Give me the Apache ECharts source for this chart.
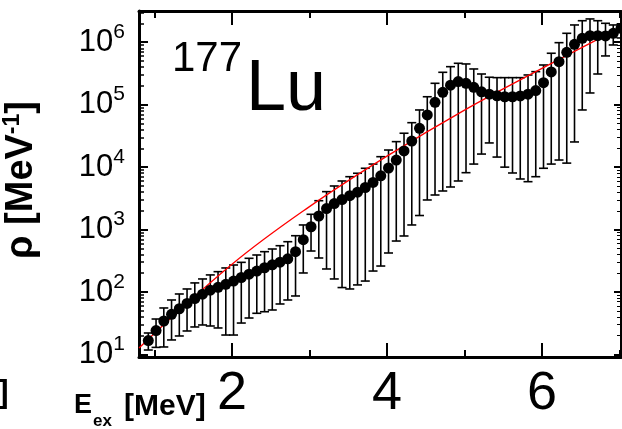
<!DOCTYPE html>
<html>
<head>
<meta charset="utf-8">
<title>177Lu level density</title>
<script src="https://cdn.jsdelivr.net/npm/echarts@6/dist/echarts.min.js"></script>
<style>
  html, body { margin: 0; padding: 0; background: #fff; }
  #chart { width: 622px; height: 429px; }
</style>
</head>
<body>
<div id="chart"></div>
<script>
// excitation energy of each bin [MeV]
const energies = [
  0.92, 1.02, 1.12, 1.22, 1.32, 1.42, 1.52, 1.62, 1.72, 1.82,
  1.92, 2.02, 2.12, 2.22, 2.32, 2.42, 2.52, 2.62, 2.72, 2.82,
  2.92, 3.02, 3.12, 3.22, 3.32, 3.42, 3.52, 3.62, 3.72, 3.82,
  3.92, 4.02, 4.12, 4.22, 4.32, 4.42, 4.52, 4.62, 4.72, 4.82,
  4.92, 5.02, 5.12, 5.22, 5.32, 5.42, 5.52, 5.62, 5.72, 5.82,
  5.92, 6.02, 6.12, 6.22, 6.32, 6.42, 6.52, 6.62, 6.72, 6.82,
  6.92, 7.02
]
// level density rho [1/MeV]
const rho = [
  16.7, 24.2, 34.4, 44, 54, 65.6, 78.8, 92.4, 107, 119,
  133, 150, 171, 193, 217, 245, 273, 301, 341, 443,
  689, 1110, 1650, 2170, 2610, 3020, 3490, 3970, 4720, 5680,
  7270, 9690, 13000, 18200, 26100, 41900, 68400, 109000, 158000, 205000,
  234000, 220000, 190000, 161000, 147000, 139000, 134000, 134000, 138000, 147000,
  168000, 225000, 334000, 489000, 690000, 927000, 1156000, 1274000, 1274000, 1259000,
  1390000, 1672000
]
// lower end of the error bars
const rhoLow = [
  11.8, 13, 13.2, 17.1, 19.8, 23.8, 27.6, 29.7, 28.6, 26.6,
  20.5, 20.5, 31.9, 38.4, 45.7, 48.4, 51.6, 64.4, 74.6, 86.5,
  202, 454, 351, 234, 162, 118, 112, 130, 150, 217,
  261, 422, 656, 790, 1186, 1680, 2980, 3580, 4150, 4810,
  6000, 8150, 11200, 16200, 24400, 14500, 10000, 8060, 6460, 5850,
  7030, 9590, 11200, 13000, 11600, 25300, 82300, 154000, 310000, 603000,
  904000, 1170000
]
// upper end of the error bars
const rhoHigh = [
  22.1, 37, 55.6, 74.6, 93.1, 112, 140, 162, 188, 212,
  243, 271, 299, 347, 392, 443, 489, 552, 640, 798,
  1186, 1758, 2900, 4050, 4990, 6000, 7030, 7980, 9590, 11200,
  14700, 18800, 25600, 34900, 51500, 82300, 134000, 220000, 330000, 406000,
  460000, 449000, 373000, 310000, 275000, 271000, 271000, 271000, 271000, 299000,
  338000, 432000, 666000, 984000, 1390000, 1890000, 2210000, 2360000, 2210000, 2010000,
  1890000, 1950000
]
// red reference curve
const fitEnergies = [0.8, 2.0, 3.0, 4.0, 5.0, 6.0, 7.02]
const fitRho = [12.7, 278, 2330, 15000, 82000, 381000, 1730000]

const xMajorTicks = [2, 4, 6]
const xMinorTicks = [1, 3, 5, 7]
const yDecades = [1, 2, 3, 4, 5, 6]

const FONT = '"Liberation Sans", Arial, Helvetica, sans-serif'
const X_MIN = 0.8
const X_MAX = 7.02
const Y_MIN = 0.96
const Y_MAX = 6.5

// y axis is drawn in log10 space, minor ticks at 2..9 of each decade
const lg = (v) => Math.log10(v)
const yMinorTicks = []
for (let d = 0; d <= 6; d++) {
  for (let k = 2; k <= 9; k++) {
    const v = d + lg(k)
    if (v > Y_MIN && v < Y_MAX) yMinorTicks.push(v)
  }
}

function axisBase(min, max, position) {
  return {
    type: 'value',
    min,
    max,
    position,
    splitLine: { show: false },
    axisLine: { show: false, onZero: false },
    axisTick: { show: false },
    axisLabel: { show: false }
  }
}

function withTicks(axis, values, length, width, lineWidth) {
  axis.axisTick = {
    show: true,
    inside: true,
    length,
    customValues: values,
    lineStyle: { color: '#000', width }
  }
  if (lineWidth) {
    axis.axisLine = { show: true, onZero: false, lineStyle: { color: '#000', width: lineWidth } }
  }
  return axis
}

const xBottom = withTicks(axisBase(X_MIN, X_MAX, 'bottom'), xMajorTicks, 14, 2, 3)
xBottom.axisLabel = {
  show: true,
  customValues: xMajorTicks,
  margin: 10,
  fontSize: 54,
  fontFamily: FONT,
  color: '#000'
}

const yLeft = withTicks(axisBase(Y_MIN, Y_MAX, 'left'), yDecades, 9, 2, 3)
yLeft.axisLabel = {
  show: true,
  customValues: yDecades,
  margin: 14,
  formatter: (v) => `{b|10}{s|${Math.round(v)}}`,
  rich: {
    b: { fontSize: 31, fontFamily: FONT, color: '#000' },
    s: { fontSize: 21, fontFamily: FONT, color: '#000', padding: [0, 0, 20, 0] }
  }
}

const chart = echarts.init(document.getElementById('chart'), null, { renderer: 'canvas' })

chart.setOption({
  animation: false,
  backgroundColor: '#fff',
  grid: { left: 139, right: 1, top: 11, bottom: 72, outerBoundsMode: 'none' },
  xAxis: [
    xBottom,
    withTicks(axisBase(X_MIN, X_MAX, 'bottom'), xMinorTicks, 7, 2),
    withTicks(axisBase(X_MIN, X_MAX, 'top'), xMajorTicks, 14, 2, 3),
    withTicks(axisBase(X_MIN, X_MAX, 'top'), xMinorTicks, 7, 2)
  ],
  yAxis: [
    yLeft,
    withTicks(axisBase(Y_MIN, Y_MAX, 'left'), yMinorTicks, 5, 1.5),
    withTicks(axisBase(Y_MIN, Y_MAX, 'right'), yDecades, 7, 2, 2),
    withTicks(axisBase(Y_MIN, Y_MAX, 'right'), yMinorTicks, 4, 1)
  ],
  graphic: [
    {
      type: 'text', x: 172, y: 59,
      style: { text: '177', font: `42px ${FONT}`, fill: '#000', align: 'left', verticalAlign: 'middle' }
    },
    {
      type: 'text', x: 246, y: 90,
      style: { text: 'Lu', font: `72px ${FONT}`, fill: '#000', align: 'left', verticalAlign: 'middle' }
    },
    {
      type: 'text', x: 22, y: 180, rotation: Math.PI / 2,
      style: {
        text: '{r|ρ [MeV}{s|-1}{r|]}',
        align: 'center',
        verticalAlign: 'middle',
        rich: {
          r: { fontSize: 38, fontWeight: 'bold', fontFamily: FONT, fill: '#000' },
          s: { fontSize: 23, fontWeight: 'bold', fontFamily: FONT, fill: '#000', padding: [0, 0, 18, 0] }
        }
      }
    },
    {
      type: 'text', x: 74, y: 406,
      style: { text: 'E', font: `bold 27px ${FONT}`, fill: '#000', align: 'left', verticalAlign: 'middle' }
    },
    {
      type: 'text', x: 93, y: 421,
      style: { text: 'ex', font: `bold 17px ${FONT}`, fill: '#000', align: 'left', verticalAlign: 'middle' }
    },
    {
      type: 'text', x: 124, y: 407,
      style: { text: '[MeV]', font: `bold 30px ${FONT}`, fill: '#000', align: 'left', verticalAlign: 'middle' }
    },
    {
      type: 'text', x: -2, y: 393,
      style: { text: ']', font: `bold 32px ${FONT}`, fill: '#000', align: 'left', verticalAlign: 'middle' }
    }
  ],
  series: [
    {
      type: 'custom',
      xAxisIndex: 0,
      yAxisIndex: 0,
      z: 2,
      data: energies.map((e, i) => [e, lg(rhoLow[i]), lg(rhoHigh[i])]),
      encode: { x: 0, y: [1, 2] },
      renderItem: (params, api) => {
        const e = api.value(0)
        const lo = api.coord([e, api.value(1)])
        const hi = api.coord([e, api.value(2)])
        const half = 4.5
        const style = { stroke: '#000', lineWidth: 1.6 }
        return {
          type: 'group',
          children: [
            { type: 'line', shape: { x1: lo[0], y1: lo[1], x2: hi[0], y2: hi[1] }, style },
            { type: 'line', shape: { x1: lo[0] - half, y1: lo[1], x2: lo[0] + half, y2: lo[1] }, style },
            { type: 'line', shape: { x1: hi[0] - half, y1: hi[1], x2: hi[0] + half, y2: hi[1] }, style }
          ]
        }
      }
    },
    {
      type: 'line',
      xAxisIndex: 0,
      yAxisIndex: 0,
      z: 3,
      smooth: 0.4,
      showSymbol: false,
      data: fitEnergies.map((e, i) => [e, lg(fitRho[i])]),
      lineStyle: { color: '#ff0000', width: 1.3 }
    },
    {
      type: 'scatter',
      xAxisIndex: 0,
      yAxisIndex: 0,
      z: 4,
      symbol: 'circle',
      symbolSize: 11,
      itemStyle: { color: '#000', opacity: 1 },
      data: energies.map((e, i) => [e, lg(rho[i])])
    }
  ]
})
</script>
</body>
</html>
